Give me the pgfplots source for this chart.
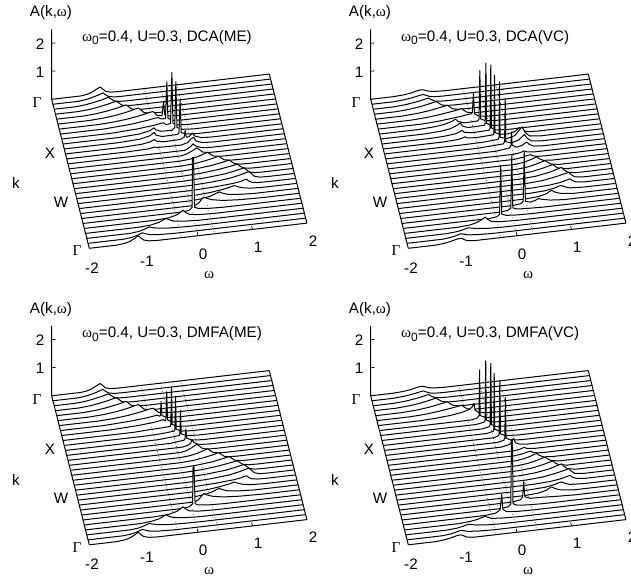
\documentclass[border=0pt]{standalone}
\usepackage{fontspec}
\setmainfont{Liberation Sans}
\newfontfamily\sy{Liberation Serif}
\usepackage{pgfplots}
\pgfplotsset{compat=1.18}
\newcommand\WL[2]{\addplot3[black,line width=1pt,fill=white,no marks,line join=round] table[row sep=\\,header=false,x index=0,y expr=#1,z index=1]{-2 0\\#2 2 0\\};}
\pgfplotsset{panel/.style={anchor=origin,hide axis,clip=false,
  x={(54.4pt,6.3pt)},y={(1.253pt,-4.967pt)},z={(0pt,28pt)},
  xmin=-2,xmax=2,ymin=0,ymax=30,zmin=0,zmax=2.5,view={0}{90}}}
\newcommand\Frame[2]{%
 \addplot3[black!75,dotted,line width=.7pt,no marks] coordinates {(#1,0,0)(#1,30,0)};
 \addplot3[black!75,dotted,line width=.7pt,no marks] coordinates {(0,0,0)(0,30,0)};
 \addplot3[black!75,dotted,line width=.7pt,no marks] coordinates {(#2,0,0)(#2,30,0)};
 \addplot3[black,line width=1pt,no marks] coordinates {(-2,0,2.5)(-2,0,0)(-2,30,0)};
 \addplot3[black,line width=1pt,no marks] coordinates {(2,0,0)(2,30,0)};
 \addplot3[black,line width=.7pt,no marks] coordinates {(-2,0,1)(-1.93,0,1)};
 \addplot3[black,line width=.7pt,no marks] coordinates {(-2,0,2)(-1.93,0,2)};
 \addplot3[black,line width=.7pt,no marks] coordinates {(0,30,0)(0,29.3,0)};
 \addplot3[black,line width=.7pt,no marks] coordinates {(1,30,0)(1,29.3,0)};
}
% ---------- shared lines, ME
\newcommand\MEa{%
\WL{0}{-1.46 0\\-1.35 .03\\-1.27 .08\\-1.18 .17\\-1.11 .24\\-1.07 .17\\-1.01 .06\\-.91 .01\\-.76 0\\}
\WL{1}{-1.53 0\\-1.4 .03\\-1.28 .08\\-1.17 .14\\-1.08 .2\\-1.04 .13\\-.98 .05\\-.88 .01\\-.73 0\\}
\WL{2}{-1.6 0\\-1.42 .03\\-1.27 .08\\-1.12 .14\\-1.05 .18\\-1 .2\\-.96 .14\\-.9 .05\\-.8 .01\\-.65 0\\}
\WL{3}{-1.58 0\\-1.37 .03\\-1.2 .08\\-1.02 .15\\-.94 .19\\-.88 .21\\-.84 .15\\-.78 .05\\-.68 .01\\-.53 0\\}
\WL{4}{-1.52 0\\-1.28 .03\\-1.08 .08\\-.88 .15\\-.78 .2\\-.72 .22\\-.68 .15\\-.62 .05\\-.52 .01\\-.37 0\\}
\WL{5}{-1.42 0\\-1.15 .03\\-.92 .08\\-.7 .16\\-.58 .22\\-.52 .24\\-.48 .17\\-.42 .06\\-.32 .01\\-.17 0\\}
}
\newcommand\MEb{%
\WL{14}{.05 0\\.15 .04\\.25 .12\\.32 .2\\.35 .22\\.39 .15\\.45 .05\\.55 .01\\.7 0\\}
\WL{15}{.02 0\\.2 .03\\.35 .09\\.45 .16\\.52 .2\\.56 .14\\.62 .05\\.72 .01\\.87 0\\}
\WL{16}{0 0\\.25 .03\\.45 .09\\.6 .15\\.7 .2\\.74 .14\\.8 .05\\.9 .01\\1.05 0\\}
\WL{17}{.02 0\\.3 .03\\.55 .08\\.75 .15\\.82 .18\\.87 .2\\.91 .14\\.97 .05\\1.07 .01\\1.22 0\\}
\WL{18}{0 0\\.35 .03\\.65 .09\\.85 .15\\.94 .18\\1 .2\\1.04 .13\\1.1 .05\\1.2 .01\\1.35 0\\}
\WL{19}{0 0\\.4 .03\\.75 .09\\.95 .16\\1.04 .2\\1.1 .22\\1.14 .15\\1.2 .05\\1.3 .01\\1.45 0\\}
\WL{20}{.07 0\\.45 .03\\.8 .09\\1 .17\\1.11 .23\\1.17 .25\\1.21 .17\\1.27 .06\\1.37 .01\\1.5 0\\}
\WL{21}{.1 0\\.5 .03\\.85 .08\\1 .12\\1.05 .16\\1.1 .17\\1.14 .1\\1.2 .04\\1.3 .01\\1.45 0\\}
\WL{22}{.15 0\\.4 .03\\.6 .08\\.75 .13\\.8 .16\\.85 .18\\.92 .12\\1 .07\\1.15 .02\\1.4 0\\}
\WL{23}{.05 0\\.25 .03\\.4 .09\\.5 .17\\.55 .2\\.6 .15\\.7 .08\\.9 .03\\1.2 0\\}
\WL{24}{.08 0\\.15 .07\\.2 .18\\.24 .26\\.3 .2\\.4 .13\\.6 .06\\.9 .02\\1.3 0\\}
}
\newcommand\MEc{%
\WL{26}{-.7 0\\-.45 .03\\-.3 .1\\-.23 .18\\-.19 .24\\-.14 .16\\-.07 .07\\.1 .02\\.4 0\\}
\WL{27}{-1 0\\-.8 .03\\-.65 .09\\-.57 .16\\-.52 .2\\-.47 .15\\-.38 .07\\-.2 .03\\.1 0\\}
\WL{28}{-1.2 0\\-1.05 .03\\-.95 .08\\-.88 .13\\-.85 .15\\-.8 .12\\-.7 .07\\-.5 .03\\-.2 .01\\.1 0\\}
\WL{29}{-1.35 0\\-1.2 .03\\-1.1 .08\\-1.03 .13\\-1 .15\\-.95 .11\\-.87 .06\\-.7 .02\\-.4 0\\}
\WL{30}{-1.5 0\\-1.35 .03\\-1.25 .08\\-1.16 .17\\-1.1 .25\\-1.06 .17\\-1 .07\\-.9 .02\\-.75 0\\}
}
% ---------- shared lines, VC
\newcommand\VCa{%
\WL{0}{-1.59 0\\-1.4 .02\\-1.25 .06\\-1.15 .11\\-1.09 .13\\-1.03 .12\\-.95 .06\\-.85 .02\\-.65 0\\}
\WL{1}{-1.6 0\\-1.4 .03\\-1.25 .07\\-1.12 .12\\-1.06 .14\\-1.01 .1\\-.94 .04\\-.84 .01\\-.7 0\\}
\WL{2}{-1.63 0\\-1.4 .03\\-1.22 .08\\-1.08 .13\\-1.02 .16\\-.98 .17\\-.94 .11\\-.87 .04\\-.77 .01\\-.6 0\\}
\WL{3}{-1.61 0\\-1.36 .03\\-1.16 .08\\-1 .14\\-.91 .18\\-.86 .19\\-.82 .13\\-.76 .05\\-.66 .01\\-.5 0\\}
\WL{4}{-1.53 0\\-1.25 .03\\-1.02 .08\\-.85 .14\\-.74 .18\\-.68 .2\\-.64 .13\\-.58 .05\\-.48 .01\\-.33 0\\}
\WL{5}{-1.39 0\\-1.1 .03\\-.85 .08\\-.63 .14\\-.5 .18\\-.44 .2\\-.4 .13\\-.34 .05\\-.24 .01\\-.1 0\\}
}
\newcommand\VCb{%
\WL{14}{.3 0\\.42 .03\\.5 .08\\.55 .03\\.7 0\\}
\WL{15}{.3 0\\.45 .04\\.55 .09\\.59 .1\\.64 .05\\.72 .01\\.85 0\\}
\WL{16}{.3 0\\.45 .04\\.58 .11\\.65 .16\\.69 .17\\.73 .1\\.8 .03\\.95 0\\}
\WL{17}{.3 0\\.5 .04\\.66 .11\\.77 .17\\.82 .19\\.86 .12\\.93 .04\\1.08 0\\}
\WL{18}{.3 0\\.55 .04\\.74 .11\\.88 .18\\.94 .2\\.98 .12\\1.05 .04\\1.2 0\\}
\WL{19}{.3 0\\.6 .04\\.84 .12\\1 .21\\1.07 .25\\1.11 .16\\1.18 .05\\1.33 0\\}
\WL{20}{.4 0\\.7 .04\\.94 .12\\1.1 .19\\1.18 .23\\1.22 .14\\1.29 .04\\1.44 0\\}
\WL{21}{.5 0\\.8 .03\\1 .08\\1.12 .14\\1.18 .17\\1.22 .1\\1.3 .03\\1.45 0\\}
\WL{22}{.4 0\\.7 .03\\.88 .09\\.96 .14\\1 .15\\1.06 .09\\1.15 .03\\1.4 0\\}
\WL{23}{.3 0\\.55 .03\\.7 .1\\.76 .17\\.8 .2\\.85 .13\\.95 .06\\1.2 0\\}
}
\newcommand\VCc{%
\WL{28}{-1.25 0\\-1.05 .03\\-.93 .08\\-.85 .12\\-.8 .1\\-.7 .06\\-.5 .02\\-.2 0\\}
\WL{29}{-1.35 0\\-1.2 .03\\-1.1 .07\\-1.02 .12\\-.97 .1\\-.88 .05\\-.7 .02\\-.4 0\\}
\WL{30}{-1.5 0\\-1.33 .03\\-1.2 .08\\-1.1 .13\\-1.03 .14\\-.98 .09\\-.92 .03\\-.8 0\\}
}
\newcommand\Labels[3]{% dx, dy, title
 \begin{scope}[shift={(#1pt,-#2pt)},every node/.style={inner sep=0pt,font=\fontsize{15.2}{17}\selectfont}]
 \node at (51pt,570pt) {A(k,{\sy ω})};
 \node[anchor=base west] at (82pt,541.5pt) {{\sy ω}\raisebox{-3.5pt}{\fontsize{12}{14}\selectfont 0}=0.4, U=0.3, #3};
 \node at (40pt,539pt) {2}; \node at (40pt,511pt) {1};
 \node at (37pt,480pt) {\sy Γ}; \node at (50pt,430pt) {X};
 \node at (61pt,381pt) {W}; \node at (77pt,332pt) {\sy Γ};
 \node at (16pt,400pt) {k};
 \node at (92pt,315pt) {-2}; \node at (147pt,322pt) {-1};
 \node at (203pt,329pt) {0}; \node at (258pt,336pt) {1};
 \node at (313pt,342pt) {2}; \node at (209pt,308pt) {\sy ω};
 \end{scope}}
\begin{document}
\begin{tikzpicture}
\path[use as bounding box] (0,0) rectangle (631pt,583pt);
% ---------------- DCA(ME)
\begin{axis}[panel,at={(160.5pt,496.3pt)}]
\Frame{-.3}{.3}
\MEa
\WL{6}{-1.28 0\\-.98 .03\\-.73 .08\\-.48 .16\\-.34 .22\\-.28 .24\\-.24 .18\\-.2 .08\\-.11 .06\\-.083 .55\\-.06 .08\\0 .02\\.2 0\\}
\WL{7}{-1.2 0\\-.7 .06\\-.4 .13\\-.26 .18\\-.2 .18\\-.14 .12\\-.07 .12\\-.045 1.43\\-.025 .12\\.05 .03\\.2 0\\}
\WL{8}{-1.1 0\\-.6 .05\\-.3 .11\\-.18 .15\\-.13 .16\\-.08 .08\\0 .1\\.025 1.92\\.045 .1\\.12 .03\\.3 0\\}
\WL{9}{-1 0\\-.6 .04\\-.4 .12\\-.33 .2\\-.29 .12\\-.2 .05\\0 .04\\.055 .12\\.075 1.76\\.095 .12\\.2 .03\\.4 0\\}
\WL{10}{-1 0\\-.6 .04\\-.42 .12\\-.35 .22\\-.31 .11\\-.2 .04\\.08 .05\\.11 .1\\.13 1.26\\.15 .1\\.25 .03\\.45 0\\}
\WL{11}{-.95 0\\-.6 .03\\-.44 .08\\-.37 .15\\-.33 .08\\-.2 .03\\.1 .04\\.18 .1\\.2 .35\\.22 .1\\.27 .1\\.33 .22\\.38 .1\\.5 .02\\.7 0\\}
\WL{12}{-.9 0\\-.5 .02\\-.38 .06\\-.34 .03\\.1 .02\\.22 .08\\.28 .2\\.33 .25\\.38 .1\\.5 .02\\.7 0\\}
\WL{13}{.15 .0\\.25 .1\\.3 .2\\.34 .12\\.45 .03\\.6 0\\}
\MEb
\WL{25}{-.2 0\\-.05 .03\\.005 .12\\.012 1.9\\.03 1.9\\.05 .12\\.12 .06\\.3 .02\\.6 0\\}
\MEc
\end{axis}
% ---------------- DCA(VC)
\begin{axis}[panel,at={(479.5pt,496.3pt)}]
\Frame{-.3}{.3}
\VCa
\WL{6}{-1.2 0\\-.9 .03\\-.65 .08\\-.45 .12\\-.33 .16\\-.29 .16\\-.27 .2\\-.25 .88\\-.23 .15\\-.15 .05\\0 .01\\.2 0\\}
\WL{7}{-1.3 0\\-1 .03\\-.8 .08\\-.66 .16\\-.6 .22\\-.56 .13\\-.45 .05\\-.2 .06\\-.17 .12\\-.155 1.85\\-.14 .12\\-.05 .04\\.1 .01\\.3 0\\}
\WL{8}{-1.2 0\\-.9 .03\\-.72 .08\\-.6 .17\\-.54 .25\\-.5 .13\\-.4 .05\\-.1 .06\\-.08 .12\\-.067 2.28\\-.055 .12\\.03 .03\\.2 0\\}
\WL{9}{-1.1 0\\-.85 .02\\-.65 .06\\-.56 .12\\-.53 .16\\-.49 .08\\-.35 .03\\-.03 .05\\-.012 .12\\0 2.37\\.012 .12\\.1 .03\\.3 0\\}
\WL{10}{-.9 0\\-.62 .03\\-.53 .07\\-.5 .1\\-.46 .05\\-.3 .02\\.02 .05\\.035 .12\\.045 2.18\\.055 .12\\.15 .04\\.3 .02\\.42 .08\\.5 .2\\.55 .1\\.65 .02\\.85 0\\}
\WL{11}{-.6 0\\-.2 .01\\.09 .05\\.105 .12\\.115 2.1\\.125 .12\\.25 .04\\.4 .12\\.48 .3\\.53 .4\\.58 .2\\.66 .05\\.85 0\\}
\WL{12}{-.3 0\\.16 .05\\.185 .12\\.196 1.66\\.207 .12\\.3 .05\\.44 .12\\.5 .22\\.55 .3\\.6 .15\\.68 .04\\.85 0\\}
\WL{13}{0 0\\.25 .06\\.28 .15\\.29 .63\\.3 .15\\.38 .06\\.48 .1\\.53 .16\\.57 .2\\.62 .1\\.7 .03\\.85 0\\}
\VCb
\WL{24}{.05 0\\.2 .03\\.25 .1\\.27 1.85\\.29 .1\\.38 .05\\.47 .09\\.53 .14\\.6 .1\\.75 .04\\1 0\\}
\WL{25}{-.2 0\\-.05 .03\\0 .1\\.018 2\\.036 .1\\.12 .04\\.3 .02\\.6 0\\}
\WL{26}{-.4 0\\-.28 .03\\-.23 .1\\-.21 1.85\\-.19 .1\\-.1 .04\\.1 .01\\.4 0\\}
\WL{27}{-1 0\\-.8 .03\\-.67 .09\\-.58 .17\\-.52 .25\\-.47 .16\\-.4 .06\\-.2 .02\\.1 0\\}
\VCc
\end{axis}
% ---------------- DMFA(ME)
\begin{axis}[panel,at={(160.5pt,199.8pt)}]
\Frame{-.36}{.37}
\MEa
\WL{6}{-1.28 0\\-.98 .03\\-.73 .08\\-.48 .16\\-.34 .22\\-.27 .23\\-.23 .15\\-.17 .06\\0 .02\\.2 0\\}
\WL{7}{-1.2 0\\-.7 .05\\-.4 .1\\-.26 .14\\-.22 .15\\-.18 .1\\-.165 .12\\-.15 .62\\-.135 .12\\-.05 .03\\.2 0\\}
\WL{8}{-1.1 0\\-.6 .04\\-.3 .09\\-.18 .13\\-.13 .15\\-.1 .1\\-.085 .12\\-.07 1.13\\-.055 .12\\.03 .03\\.3 0\\}
\WL{9}{-.7 0\\-.4 .03\\-.2 .04\\-.03 .06\\-.018 .12\\-.005 1.47\\.008 .12\\.1 .03\\.3 0\\}
\WL{10}{-.5 0\\-.2 .02\\.02 .06\\.034 .12\\.046 1.29\\.058 .12\\.15 .03\\.35 0\\}
\WL{11}{-.3 0\\.09 .06\\.103 .12\\.115 .96\\.127 .12\\.22 .03\\.45 0\\}
\WL{12}{-.1 0\\.16 .06\\.176 .12\\.19 .45\\.205 .12\\.3 .03\\.5 0\\}
\WL{13}{.1 0\\.2 .04\\.26 .12\\.28 .24\\.31 .12\\.4 .03\\.6 0\\}
\MEb
\WL{25}{-.2 0\\-.05 .03\\.015 .12\\.022 1.44\\.04 1.44\\.06 .12\\.12 .06\\.3 .02\\.6 0\\}
\MEc
\end{axis}
% ---------------- DMFA(VC)
\begin{axis}[panel,at={(479.5pt,199.8pt)}]
\Frame{-.38}{.37}
\VCa
\WL{6}{-1.2 0\\-.9 .03\\-.65 .07\\-.45 .13\\-.33 .2\\-.27 .28\\-.24 .4\\-.22 .15\\-.15 .05\\0 .01\\.2 0\\}
\WL{7}{-.3 0\\-.2 .05\\-.17 .12\\-.16 1.75\\-.15 .12\\-.05 .03\\.1 0\\}
\WL{8}{-.25 0\\-.1 .05\\-.08 .12\\-.07 2.23\\-.06 .12\\.03 .03\\.2 0\\}
\WL{9}{-.15 0\\-.03 .05\\-.012 .12\\0 2.31\\.012 .12\\.1 .03\\.3 0\\}
\WL{10}{-.1 0\\.02 .05\\.032 .12\\.04 2.12\\.05 .12\\.14 .03\\.35 0\\}
\WL{11}{0 0\\.09 .05\\.108 .12\\.12 2\\.132 .12\\.22 .03\\.45 0\\}
\WL{12}{.05 0\\.17 .05\\.188 .12\\.2 1.57\\.212 .12\\.3 .03\\.5 0\\}
\WL{13}{.1 0\\.25 .06\\.28 .12\\.29 .22\\.33 .25\\.36 .1\\.44 .03\\.6 0\\}
\VCb
\WL{24}{.05 0\\.2 .05\\.24 .14\\.26 .68\\.28 .14\\.38 .06\\.6 .05\\.9 .02\\1.2 0\\}
\WL{25}{-.2 0\\-.05 .03\\0 .12\\.012 2.39\\.03 2.39\\.04 .12\\.12 .05\\.3 .02\\.6 0\\}
\WL{26}{-.5 0\\-.3 .04\\-.22 .14\\-.19 .68\\-.17 .14\\-.1 .05\\.1 .01\\.4 0\\}
\WL{27}{-1 0\\-.8 .03\\-.67 .07\\-.58 .12\\-.52 .15\\-.47 .11\\-.4 .05\\-.2 .02\\.1 0\\}
\VCc
\end{axis}
\Labels{0}{0}{DCA(ME)}
\Labels{319}{0}{DCA(VC)}
\Labels{0}{296.5}{DMFA(ME)}
\Labels{319}{296.5}{DMFA(VC)}
\end{tikzpicture}
\end{document}
